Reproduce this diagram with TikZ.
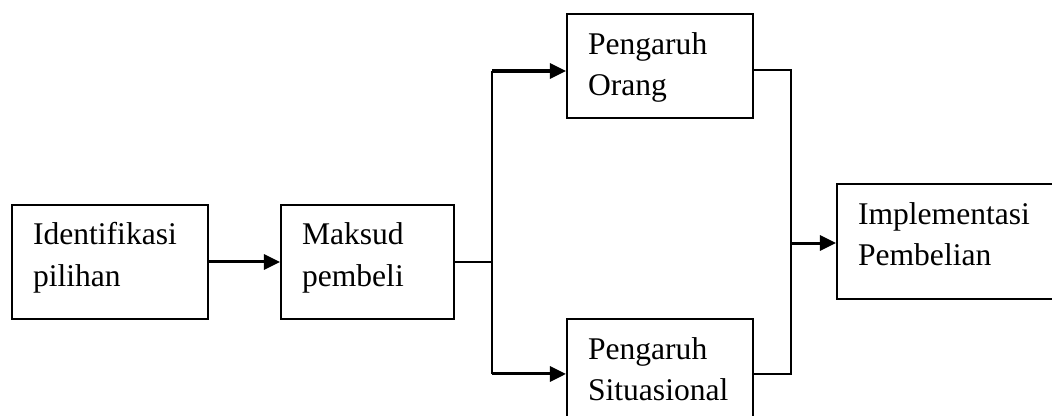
\documentclass[tikz,border=0pt]{standalone}
\usepackage{fontspec}
\setmainfont{Liberation Serif}
\usetikzlibrary{arrows.meta}
\hyphenpenalty=10000

\tikzset{
	kotak/.style={draw, line width=0.75pt, anchor=north west, align=left,
		inner xsep=0.269cm, inner ysep=0pt, text height=0.512cm},
	garis/.style={line width=0.75pt},
	panah/.style={line width=1.1pt, -{Triangle[length=0.205cm, width=0.192cm]}}
}

\begin{document}
\begin{tikzpicture}
	%\draw[help lines] (0,0) grid (13,5);
	\fontsize{11.5}{15.1}\selectfont
	\useasboundingbox (0, 0) rectangle (13.466, 5.325);
	\clip (0, 0) rectangle (13.466, 5.325);

	\node [kotak, text width=1.971cm, text depth=0.947cm] (ident) at (0.141, 2.714) {Identifikasi\\pilihan};		% Kasten links
	\node [kotak, text width=1.676cm, text depth=0.947cm] (maksud) at (3.584, 2.714) {Maksud\\pembeli};
	\node [kotak, text width=1.843cm, text depth=0.819cm] (orang) at (7.245, 5.158) {Pengaruh\\Orang};			% oben
	\node [kotak, text width=1.843cm, text depth=0.819cm] (situ) at (7.245, 1.254) {Pengaruh\\Situasional};		% unten
	\node [kotak, text width=2.406cm, text depth=0.960cm] (impl) at (10.701, 2.982) {Implementasi\\Pembelian};	% Kasten rechts

	\coordinate (atas) at (6.298, 4.416);
	\coordinate (bawah) at (6.298, 0.538);
	\coordinate (kanan-atas) at (10.125, 4.429);
	\coordinate (kanan-bawah) at (10.125, 0.538);
	\coordinate (tengah) at (10.125, 2.214);

	\draw [panah] (ident.east) -- (maksud.west);
	\draw [garis] (maksud.east) -- (maksud.east -| atas) coordinate (cabang);	% Verzweigung
	\draw [garis] (atas) -- (bawah);
	\draw [panah] (atas) -- (atas -| orang.west);
	\draw [panah] (bawah) -- (bawah -| situ.west);

	\draw [garis] (orang.east |- kanan-atas) -- (kanan-atas) -- (kanan-bawah) -- (situ.east |- kanan-bawah);	% Zusammenfuehrung
	\draw [panah] (tengah) -- (tengah -| impl.west);
\end{tikzpicture}
\end{document}
